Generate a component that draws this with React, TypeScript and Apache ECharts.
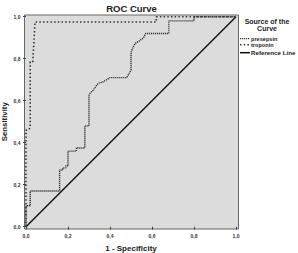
import React, { useEffect, useRef } from "react";
import * as echarts from "echarts";

const titleText = "ROC Curve";
const xAxisName = "1 - Specificity";
const yAxisName = "Sensitivity";
const legendTitle = ["Source of the", "Curve"];
const seriesNames = ["presepsin", "troponin", "Reference Line"];

// presepsin ROC (1 - specificity, sensitivity)
const presepsinFPR = [0, 0, 0.02, 0.02, 0.16, 0.16, 0.175, 0.175, 0.19, 0.19, 0.2, 0.2, 0.24, 0.24, 0.28, 0.28, 0.3, 0.3, 0.305, 0.32, 0.344, 0.368, 0.4, 0.48, 0.5, 0.5, 0.51, 0.52, 0.54, 0.56, 0.57, 0.68, 0.68, 0.8, 0.8, 1];
const presepsinTPR = [0, 0.1, 0.1, 0.17, 0.17, 0.27, 0.27, 0.28, 0.28, 0.29, 0.29, 0.36, 0.36, 0.375, 0.375, 0.48, 0.48, 0.625, 0.635, 0.65, 0.683, 0.69, 0.71, 0.71, 0.745, 0.83, 0.855, 0.873, 0.885, 0.9, 0.92, 0.92, 0.98, 0.98, 1, 1];

// troponin ROC
const troponinFPR = [0, 0, 0.01, 0.02, 0.02, 0.032, 0.036, 0.04, 0.043, 0.62, 0.62, 1];
const troponinTPR = [0, 0.46, 0.46, 0.47, 0.785, 0.785, 0.85, 0.92, 0.975, 0.975, 1, 1];

// reference diagonal
const refFPR = [0, 1];
const refTPR = [0, 1];

const axisMin = 0;
const axisMax = 1;
const axisInterval = 0.2;

const zip = (xs: number[], ys: number[]) => xs.map((x, i) => [x, ys[i]]);
const fmt = (v: number) => v.toFixed(1).replace(".", ",");

const FONT = "'Liberation Sans', Arial, sans-serif";

export default function App() {
  const ref = useRef<HTMLDivElement>(null);
  useEffect(() => {
    if (!ref.current) return;
    const chart = echarts.init(ref.current, undefined, { renderer: "svg" });
    const legendX0 = 240;
    const legendX1 = 250;
    const legendYs = [38.6, 44.8, 52.7];
    chart.setOption({
      animation: false,
      textStyle: { fontFamily: FONT },
      title: {
        text: titleText,
        left: 131.5,
        textAlign: "center",
        top: 3,
        padding: 0,
        textStyle: { fontSize: 9.5, fontWeight: "bold", color: "#222", fontFamily: FONT },
      },
      grid: { left: 26, top: 16.7, width: 210, height: 210, outerBoundsMode: "none", containLabel: false },
      xAxis: {
        type: "value",
        min: axisMin,
        max: axisMax,
        interval: axisInterval,
        offset: 2,
        axisLine: { show: false },
        axisTick: { show: true, length: 3, lineStyle: { color: "#444", width: 1 } },
        axisLabel: { fontSize: 5, fontWeight: "bold", color: "#333", margin: 5, formatter: fmt },
        splitLine: { show: false },
        name: xAxisName,
        nameLocation: "middle",
        nameGap: 15.5,
        nameMoveOverlap: false,
        nameTextStyle: { fontSize: 8, fontWeight: "bold", color: "#222", fontFamily: FONT },
      },
      yAxis: {
        type: "value",
        min: axisMin,
        max: axisMax,
        interval: axisInterval,
        offset: 1.5,
        axisLine: { show: false },
        axisTick: { show: true, length: 3, lineStyle: { color: "#444", width: 1 } },
        axisLabel: { fontSize: 5, fontWeight: "bold", color: "#333", margin: 4, formatter: fmt },
        splitLine: { show: false },
        name: yAxisName,
        nameLocation: "middle",
        nameGap: 16.5,
        nameMoveOverlap: false,
        nameTextStyle: { fontSize: 7.8, fontWeight: "bold", color: "#222", fontFamily: FONT },
      },
      graphic: [
        {
          type: "rect",
          z: -10,
          silent: true,
          shape: { x: 24.5, y: 15, width: 214, height: 214 },
          style: { fill: "#dcdcdc", stroke: "#666", lineWidth: 1 },
        },
        {
          type: "text",
          z: 100,
          style: {
            text: legendTitle.join("\n"),
            x: 267,
            y: 18,
            textAlign: "center",
            fontSize: 7,
            lineHeight: 7,
            fontWeight: "bold",
            fill: "#222",
            fontFamily: FONT,
          },
        },
        {
          type: "line",
          z: 100,
          shape: { x1: legendX0, y1: legendYs[0], x2: legendX1, y2: legendYs[0] },
          style: { stroke: "#333", lineWidth: 1.4, lineDash: [1.2, 0.8] },
        },
        {
          type: "line",
          z: 100,
          shape: { x1: legendX0, y1: legendYs[1], x2: legendX1, y2: legendYs[1] },
          style: { stroke: "#333", lineWidth: 1.6, lineDash: [1.5, 2.2] },
        },
        {
          type: "line",
          z: 100,
          shape: { x1: legendX0, y1: legendYs[2], x2: legendX1, y2: legendYs[2] },
          style: { stroke: "#111", lineWidth: 1.5 },
        },
        ...seriesNames.map((n, i) => ({
          type: "text",
          z: 100,
          style: {
            text: n,
            x: 251,
            y: legendYs[i],
            textVerticalAlign: "middle",
            fontSize: i === 2 ? 6.2 : 5.6,
            fontWeight: "bold",
            fill: "#222",
            fontFamily: FONT,
          },
        })),
      ],
      series: [
        {
          name: seriesNames[0],
          type: "line",
          data: zip(presepsinFPR, presepsinTPR),
          symbol: "none",
          z: 3,
          lineStyle: { color: "#333", width: 1.4, type: [1.2, 0.8] },
        },
        {
          name: seriesNames[1],
          type: "line",
          data: zip(troponinFPR, troponinTPR),
          symbol: "none",
          z: 3,
          lineStyle: { color: "#333", width: 1.6, type: [1.5, 2.2] },
        },
        {
          name: seriesNames[2],
          type: "line",
          data: zip(refFPR, refTPR),
          symbol: "none",
          z: 2,
          lineStyle: { color: "#111", width: 1.5, type: "solid" },
        },
      ],
    });
    return () => chart.dispose();
  }, []);
  return <div ref={ref} style={{ width: 298, height: 253, position: "absolute", left: 0, top: 0 }} />;
}
